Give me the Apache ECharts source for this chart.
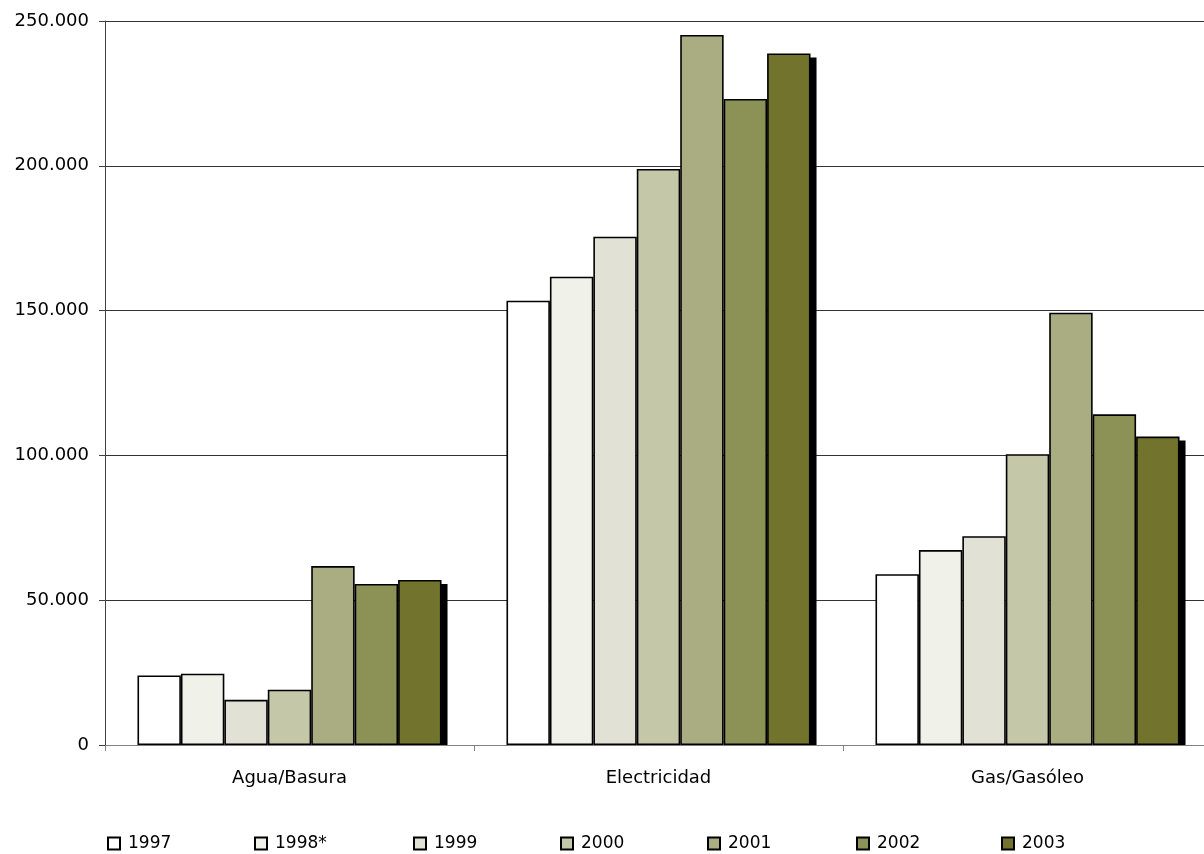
<!DOCTYPE html>
<html>
<head>
<meta charset="utf-8">
<script src="https://cdn.jsdelivr.net/npm/echarts@6/dist/echarts.min.js"></script>
<style>html,body{margin:0;padding:0;background:#fff}#c{width:1204px;height:854px}</style>
</head>
<body>
<div id="c"></div>
<script>
var categories = ['Agua/Basura', 'Electricidad', 'Gas/Gasóleo'];
var seriesNames = ['1997', '1998*', '1999', '2000', '2001', '2002', '2003'];
var v1997 = [24000, 153400, 59000];
var v1998 = [24600, 161700, 67300];
var v1999 = [15600, 175500, 72100];
var v2000 = [19100, 198900, 100400];
var v2001 = [61800, 245200, 149300];
var v2002 = [55600, 223100, 114200];
var v2003 = [57000, 238800, 106500];
var colors = ['#ffffff', '#f0f1e9', '#e1e2d5', '#c5c8a8', '#aaad81', '#8c9156', '#72742d'];
var legendLeft = [107, 254, 413, 560, 707, 856, 1001];
var values = [v1997, v1998, v1999, v2000, v2001, v2002, v2003];

var font = 'DejaVu Sans';
var GL = 105, GT = 21, GW = 1107, GB = 109;
var H = 854 - GT - GB;           // plot height in px
var YMAX = 250000;
var SX = 6, SY = 4;              // shadow offset of the last series
var shadowMin = SY * YMAX / H;

var series = [];
// shadow layer (grid 1): same layout, only last series visible in black
seriesNames.forEach(function (n, i) {
  series.push({
    name: 'shadow_' + n, type: 'bar', data: values[i],
    xAxisIndex: 1, yAxisIndex: 1, z: 1, silent: true,
    barGap: '0%', barCategoryGap: '17.6%',
    itemStyle: { color: i === 6 ? '#000' : 'rgba(0,0,0,0)', borderWidth: 0 },
    emphasis: { disabled: true }
  });
});
seriesNames.forEach(function (n, i) {
  series.push({
    name: n, type: 'bar', data: values[i],
    xAxisIndex: 0, yAxisIndex: 0, z: 3,
    barGap: '0%', barCategoryGap: '17.6%',
    itemStyle: { color: colors[i], borderColor: '#000', borderWidth: 1.6 },
    emphasis: { disabled: true }
  });
});
var legends = seriesNames.map(function (n, i) {
  return {
    data: [n], left: legendLeft[i], top: 835, padding: 0,
    icon: 'rect', itemWidth: 12, itemHeight: 12,
    textStyle: { fontFamily: font, fontSize: 17, color: '#000', padding: [0, 0, 0, 3] },
    selectedMode: false
  };
});
var chart = echarts.init(document.getElementById('c'), null, { renderer: 'canvas' });
chart.setOption({
  animation: false,
  backgroundColor: '#fff',
  legend: legends,
  grid: [
    { left: GL, top: GT, width: GW, height: H, outerBoundsMode: 'none', containLabel: false },
    { left: GL + SX, top: GT + SY, width: GW, height: H - SY, outerBoundsMode: 'none', containLabel: false }
  ],
  xAxis: [{
    type: 'category', data: categories, gridIndex: 0,
    axisLine: { lineStyle: { color: '#808080', width: 1 } },
    axisTick: { show: true, length: 6, lineStyle: { color: '#808080' } },
    axisLabel: { fontFamily: font, fontSize: 18, color: '#000', margin: 24 }
  }, {
    type: 'category', data: categories, gridIndex: 1, show: false
  }],
  yAxis: [{
    type: 'value', min: 0, max: YMAX, interval: 50000, gridIndex: 0,
    axisLine: { show: true, lineStyle: { color: '#404040', width: 1 } },
    axisTick: { show: true, length: 6, lineStyle: { color: '#404040' } },
    splitLine: { lineStyle: { color: '#333', width: 1 } },
    axisLabel: {
      fontFamily: font, fontSize: 18, color: '#000', margin: 16,
      formatter: function (v) {
        if (v === 0) return '0';
        return String(v).replace(/\B(?=(\d{3})+(?!\d))/g, '.');
      }
    }
  }, {
    type: 'value', gridIndex: 1, min: shadowMin, max: YMAX, show: false,
    splitLine: { show: false }
  }],
  series: series
});
</script>
</body>
</html>
